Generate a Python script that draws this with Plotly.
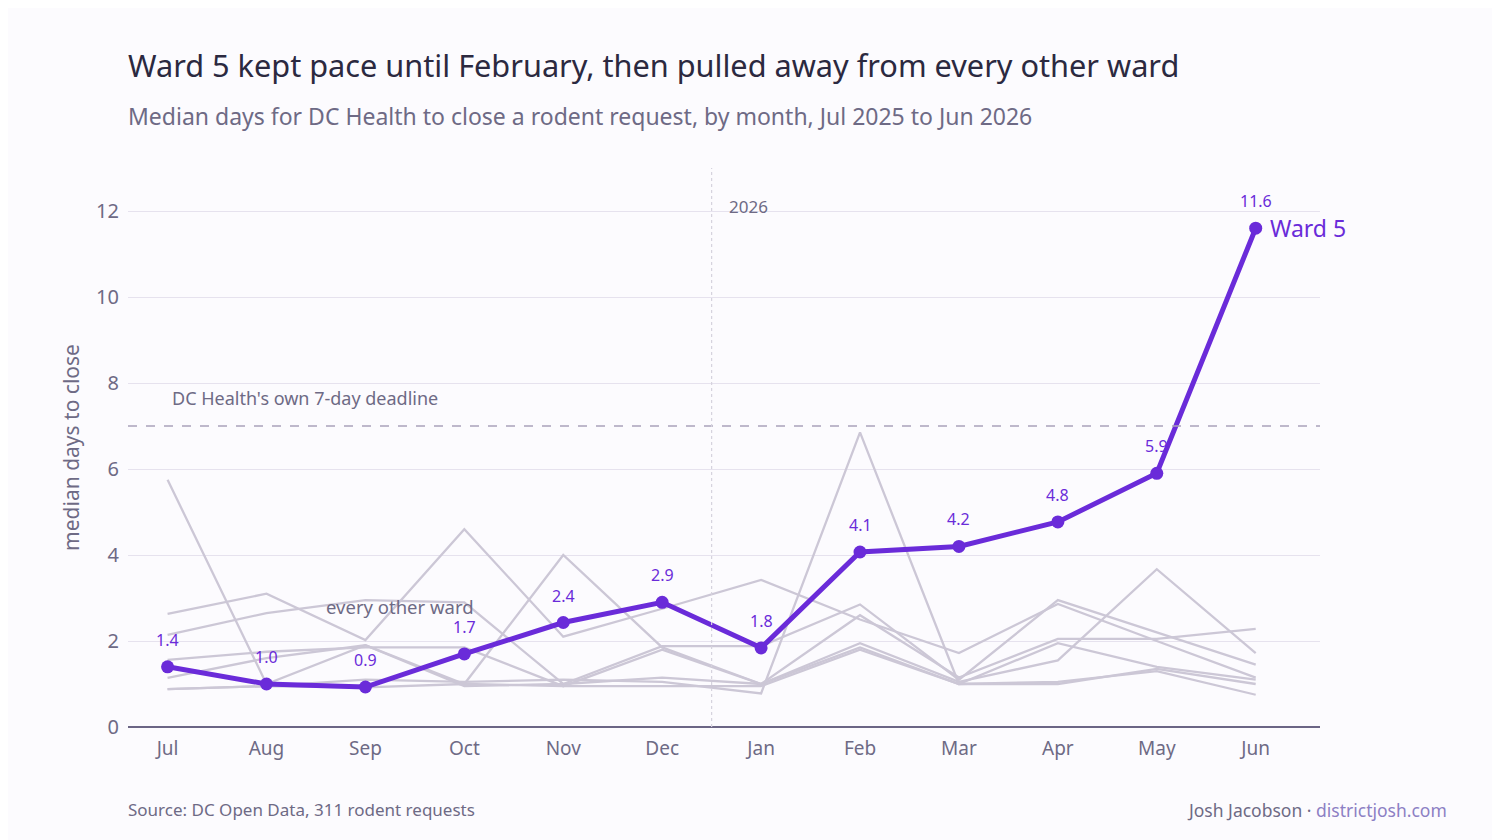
import plotly.graph_objects as go

months = ["Jul", "Aug", "Sep", "Oct", "Nov", "Dec", "Jan", "Feb", "Mar", "Apr", "May", "Jun"]
ward5 = [1.4, 1.0, 0.93, 1.7, 2.43, 2.9, 1.84, 4.07, 4.2, 4.77, 5.9, 11.6]

# the other seven wards
ward_a = [5.75, 1.0, 1.9, 0.95, 1.0, 1.15, 1.0, 1.85, 1.0, 1.0, 1.35, 1.0]
ward_b = [2.63, 3.1, 2.02, 4.6, 2.1, 2.75, 3.42, 2.5, 1.72, 2.86, 2.0, 1.15]
ward_c = [2.14, 2.65, 2.95, 2.9, 1.0, 1.88, 1.88, 2.85, 1.1, 2.95, 2.2, 1.45]
ward_d = [1.56, 1.75, 1.85, 1.85, 0.95, 1.8, 1.0, 1.95, 1.05, 1.55, 3.67, 1.72]
ward_e = [1.14, 1.6, 1.9, 1.0, 4.0, 1.85, 1.0, 2.6, 1.15, 2.05, 2.05, 2.28]
ward_f = [0.88, 0.95, 1.1, 1.05, 1.1, 1.05, 0.78, 6.85, 1.0, 1.05, 1.3, 0.75]
ward_g = [0.88, 0.95, 0.92, 1.0, 0.95, 0.95, 0.95, 1.8, 1.0, 1.95, 1.4, 1.1]
other_wards = [ward_a, ward_b, ward_c, ward_d, ward_e, ward_f, ward_g]

deadline = 7
year_break = 5.5

PURPLE = "#6a2bd9"
GREY_LINE = "#ccc7d6"
TEXT = "#2b2940"
MUTED = "#6e6a85"
FONT = "Noto Sans"

x = list(range(len(months)))

fig = go.Figure()

for vals in other_wards:
    fig.add_trace(go.Scatter(x=x, y=vals, mode="lines",
                             line=dict(color=GREY_LINE, width=2.3),
                             hoverinfo="skip", showlegend=False))

fig.add_trace(go.Scatter(
    x=x, y=ward5, mode="lines+markers",
    line=dict(color=PURPLE, width=5),
    marker=dict(color=PURPLE, size=13),
    showlegend=False,
))

# value labels above each Ward 5 point
for xi, v in zip(x, ward5):
    fig.add_annotation(x=xi, y=v, text=f"{v:.1f}", showarrow=False, yshift=27,
                       font=dict(size=16, color=PURPLE))

fig.add_hline(y=deadline, line=dict(color="#a9a3ba", width=1.6, dash="dash"))
fig.add_vline(x=year_break, line=dict(color="#d6d2de", width=1.2, dash="dot"))

annos = [
    dict(x=year_break + 0.16, y=12.1, text="2026", xanchor="left", yanchor="middle",
         font=dict(size=17, color=MUTED)),
    dict(x=0.02, y=7.65, text="DC Health's own 7-day deadline", xanchor="left", yanchor="middle",
         font=dict(size=18, color=MUTED)),
    dict(x=2.35, y=2.8, text="every other ward", xanchor="center", yanchor="middle",
         font=dict(size=18.5, color=MUTED)),
    dict(x=11.12, y=ward5[-1], text="Ward 5", xanchor="left", yanchor="middle",
         font=dict(size=23, color=PURPLE)),
]
for a in annos:
    fig.add_annotation(showarrow=False, xref="x", yref="y", **a)

# title, subtitle, footer
fig.add_annotation(text="Ward 5 kept pace until February, then pulled away from every other ward",
                   xref="paper", yref="paper", x=-0.002, y=1.184, xanchor="left", yanchor="middle",
                   showarrow=False, font=dict(size=30.7, color=TEXT))
fig.add_annotation(text="Median days for DC Health to close a rodent request, by month, Jul 2025 to Jun 2026",
                   xref="paper", yref="paper", x=-0.002, y=1.093, xanchor="left", yanchor="middle",
                   showarrow=False, font=dict(size=23, color=MUTED))
fig.add_annotation(text="Source: DC Open Data, 311 rodent requests", xref="paper", yref="paper",
                   x=-0.002, y=-0.148, xanchor="left", yanchor="middle", showarrow=False,
                   font=dict(size=17, color=MUTED))
fig.add_annotation(text="Josh Jacobson · <span style='color:#8c80c4'>districtjosh.com</span>",
                   xref="paper", yref="paper", x=1.108, y=-0.148, xanchor="right", yanchor="middle",
                   showarrow=False, font=dict(size=17.5, color=MUTED))

fig.update_xaxes(range=[-0.4, 11.65], tickvals=x, ticktext=months, showgrid=False,
                 tickfont=dict(size=19, color=MUTED), ticks="", zeroline=False,
                 showline=False, ticklabelstandoff=8)
fig.update_yaxes(range=[0, 13], tickvals=[0, 2, 4, 6, 8, 10, 12], gridcolor="#e6e2ee",
                 gridwidth=1.2, zeroline=True, zerolinecolor="#6b6585", zerolinewidth=2,
                 tickfont=dict(size=20, color=MUTED), ticklabelstandoff=8,
                 title=dict(text="median days to close", font=dict(size=21, color=MUTED), standoff=10))

fig.update_layout(
    width=1500, height=840,
    paper_bgcolor="#fcfbfe", plot_bgcolor="#fcfbfe",
    font=dict(family=FONT, color=MUTED),
    margin=dict(l=120, r=188, t=160, b=121),
)

fig.write_html("out.html")
